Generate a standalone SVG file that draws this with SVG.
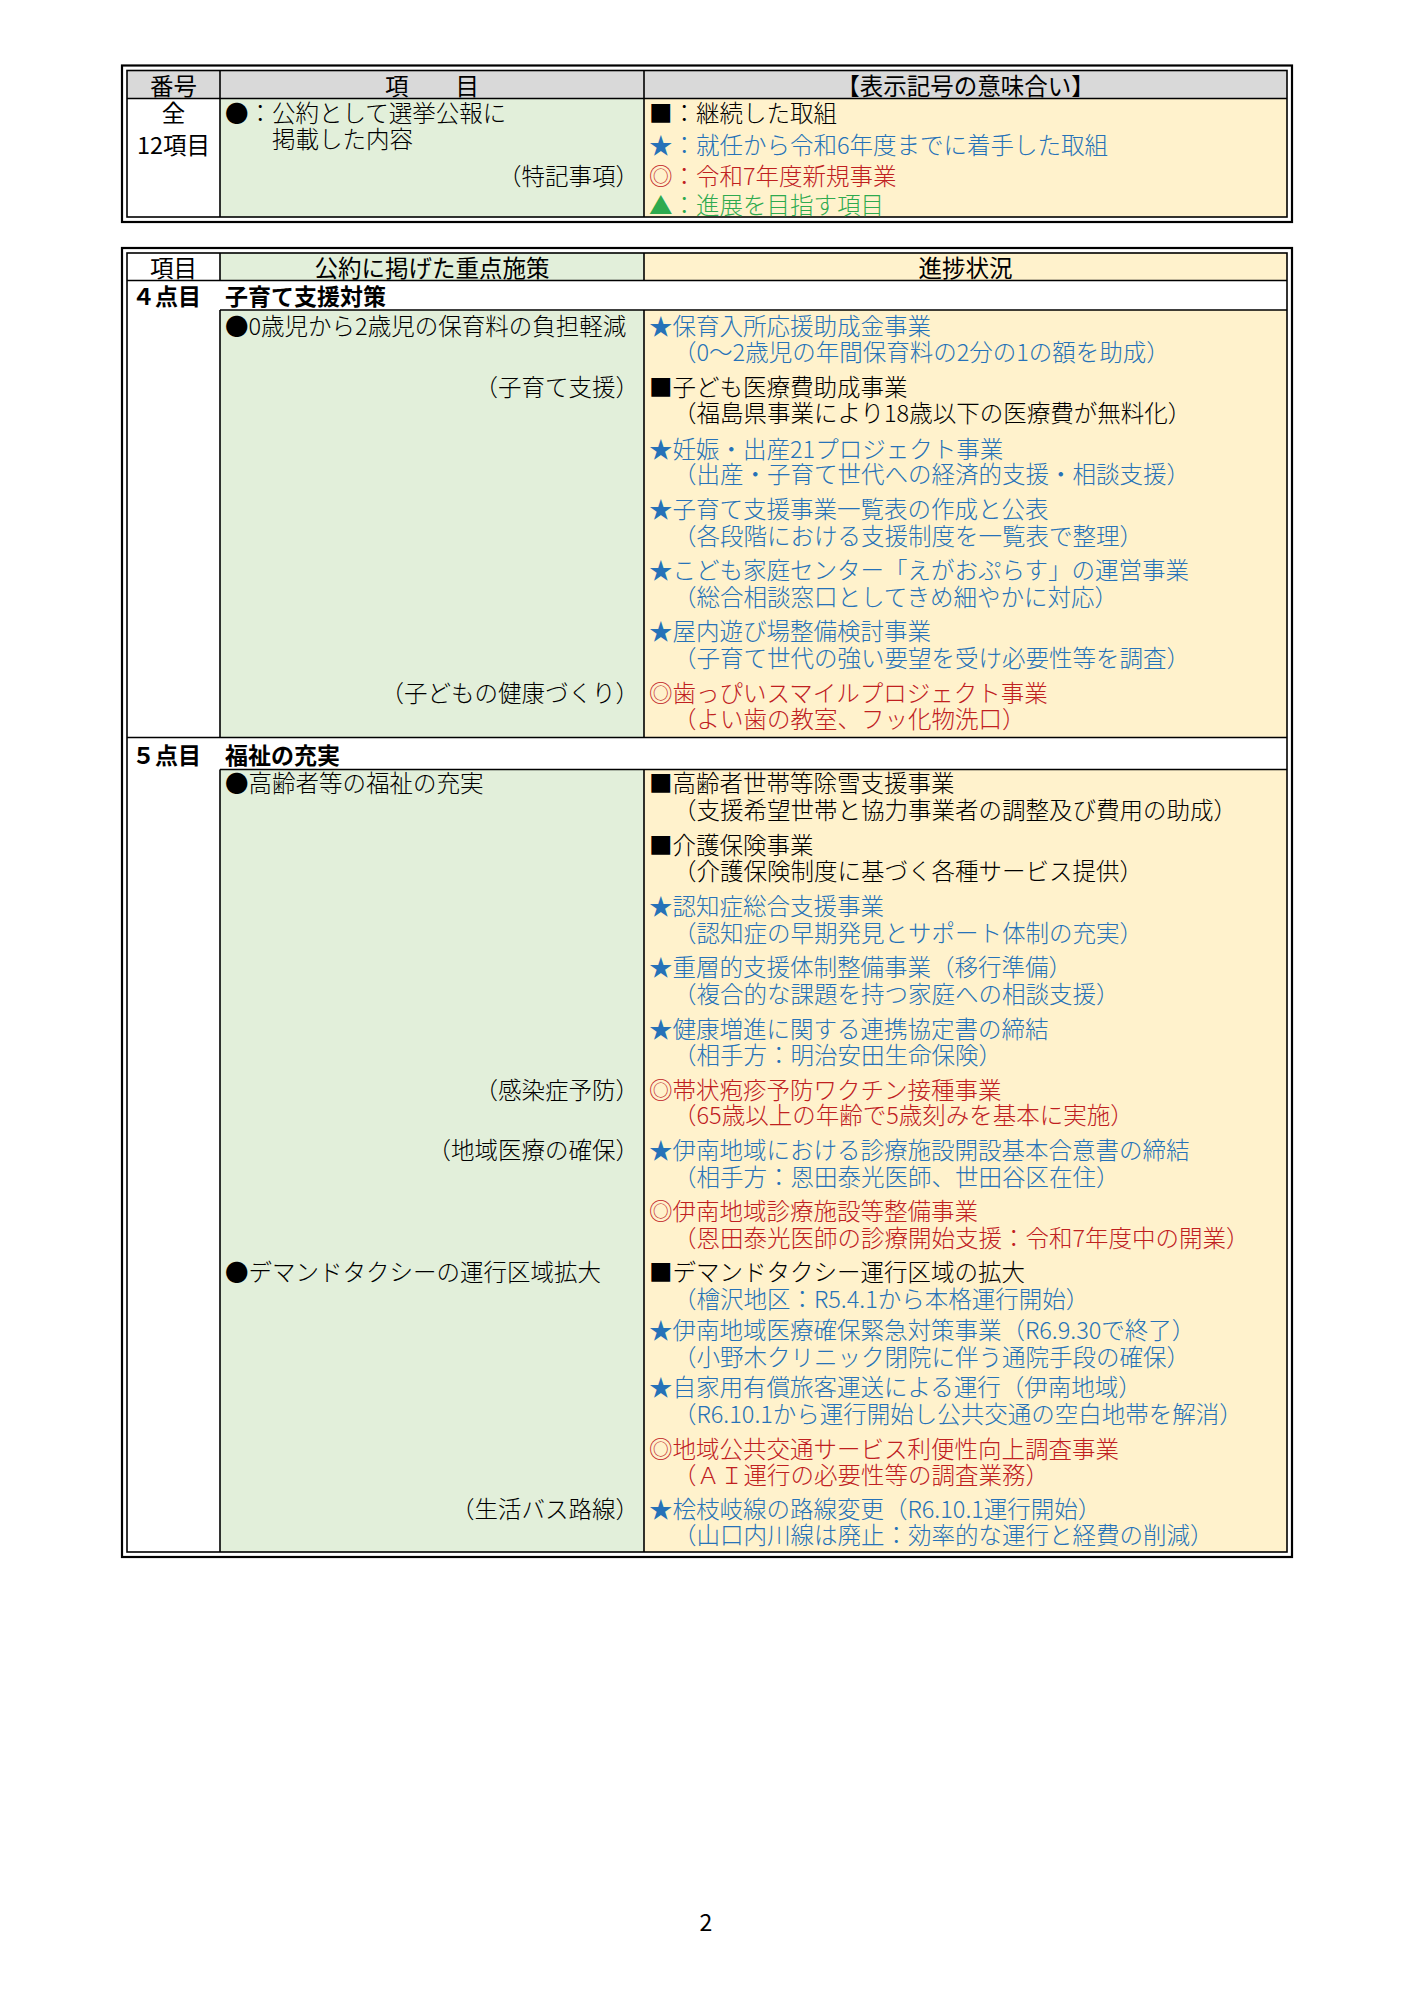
<svg xmlns="http://www.w3.org/2000/svg" width="1415" height="2000" viewBox="0 0 1415 2000">
<style>
text{font-family:"Noto Sans CJK JP","Noto Sans CJK SC",sans-serif;dominant-baseline:central;}
.h{font-size:23.5px;font-weight:400;fill:#000;}
.hc{text-anchor:middle;}
.cat{font-size:23px;font-weight:700;fill:#000;}
.t{font-size:23.5px;font-weight:300;}
.k{fill:#000;}
.bl{fill:#2672B8;}
.rd{fill:#C0201F;}
.gr{fill:#2EAA4F;}
.end{text-anchor:end;}
.frame{fill:none;stroke:#000;stroke-width:2.2;}
.grid{fill:none;stroke:#000;stroke-width:1.6;}
.hdr{fill:#D9D9D9;}
.grn{fill:#E2EFDA;}
.bei{fill:#FFF2CC;}
.wht{fill:#FFFFFF;}
</style>
<rect x="0" y="0" width="1415" height="2000" fill="#FFFFFF"/>

<g id="legend-table">
  <rect class="hdr" x="127" y="70.5" width="1160" height="28"/>
  <rect class="wht" x="127" y="98.5" width="93" height="118.5"/>
  <rect class="grn" x="220" y="98.5" width="424" height="118.5"/>
  <rect class="bei" x="644" y="98.5" width="643" height="118.5"/>
  <rect class="frame" x="122" y="65.5" width="1170" height="156.5"/>
  <rect class="grid" x="127" y="70.5" width="1160" height="146.5"/>
  <line class="grid" x1="127" y1="98.5" x2="1287" y2="98.5"/>
  <line class="grid" x1="220" y1="70.5" x2="220" y2="217"/>
  <line class="grid" x1="644" y1="70.5" x2="644" y2="217"/>
  <text class="h hc" x="173.5" y="84.5">番号</text>
  <text class="h hc" x="432" y="84.5">項　　目</text>
  <text class="h hc" x="965.5" y="84.5">【表示記号の意味合い】</text>
  <text class="h hc" x="173.5" y="112">全</text>
  <text class="h hc" x="173.5" y="144">12項目</text>
  <text class="t k" x="225" y="112">●：公約として選挙公報に</text>
  <text class="t k" x="272" y="137.5">掲載した内容</text>
  <text class="t k end" x="639" y="174.5">（特記事項）</text>
  <text class="t k" x="649" y="112">■：継続した取組</text>
  <text class="t bl" x="649" y="143.5">★：就任から令和6年度までに着手した取組</text>
  <text class="t rd" x="649" y="174.5">◎：令和7年度新規事業</text>
  <text class="t gr" x="649" y="203.5">▲：進展を目指す項目</text>
</g>

<g id="main-table-frame">
  <rect class="wht" x="127" y="253" width="93" height="27.5"/>
  <rect class="grn" x="220" y="253" width="424" height="27.5"/>
  <rect class="bei" x="644" y="253" width="643" height="27.5"/>
  <rect class="wht" x="127" y="280.5" width="1160" height="1271.5"/>
  <rect class="grn" x="220" y="310" width="424" height="427.5"/>
  <rect class="bei" x="644" y="310" width="643" height="427.5"/>
  <rect class="grn" x="220" y="769.5" width="424" height="782.5"/>
  <rect class="bei" x="644" y="769.5" width="643" height="782.5"/>
  <rect class="frame" x="122" y="248" width="1170" height="1309"/>
  <rect class="grid" x="127" y="253" width="1160" height="1299"/>
  <line class="grid" x1="127" y1="280.5" x2="1287" y2="280.5" stroke-width="2.2"/>
  <line class="grid" x1="220" y1="253" x2="220" y2="280.5"/>
  <line class="grid" x1="644" y1="253" x2="644" y2="280.5"/>
  <line class="grid" x1="220" y1="310" x2="1287" y2="310"/>
  <line class="grid" x1="220" y1="310" x2="220" y2="737.5"/>
  <line class="grid" x1="644" y1="310" x2="644" y2="737.5"/>
  <line class="grid" x1="127" y1="737.5" x2="1287" y2="737.5"/>
  <line class="grid" x1="220" y1="769.5" x2="1287" y2="769.5"/>
  <line class="grid" x1="220" y1="769.5" x2="220" y2="1552"/>
  <line class="grid" x1="644" y1="769.5" x2="644" y2="1552"/>
  <text class="h hc" x="173.5" y="266.5">項目</text>
  <text class="h hc" x="432" y="266.5">公約に掲げた重点施策</text>
  <text class="h hc" x="965.5" y="266.5">進捗状況</text>
</g>

<g id="section-4">
  <text class="cat" x="132" y="295">４点目</text>
  <text class="cat" x="225" y="295">子育て支援対策</text>
  <text class="t k" x="225" y="325">●0歳児から2歳児の保育料の負担軽減</text>
  <text class="t k end" x="639" y="386">（子育て支援）</text>
  <text class="t k end" x="639" y="691.5">（子どもの健康づくり）</text>
  <text class="t bl" x="649" y="325">★保育入所応援助成金事業</text>
  <text class="t bl" x="673" y="350.5">（0～2歳児の年間保育料の2分の1の額を助成）</text>
  <text class="t k" x="649" y="386">■子ども医療費助成事業</text>
  <text class="t k" x="673" y="412">（福島県事業により18歳以下の医療費が無料化）</text>
  <text class="t bl" x="649" y="447.5">★妊娠・出産21プロジェクト事業</text>
  <text class="t bl" x="673" y="473">（出産・子育て世代への経済的支援・相談支援）</text>
  <text class="t bl" x="649" y="507.5">★子育て支援事業一覧表の作成と公表</text>
  <text class="t bl" x="673" y="534.5">（各段階における支援制度を一覧表で整理）</text>
  <text class="t bl" x="649" y="569">★こども家庭センター「えがおぷらす」の運営事業</text>
  <text class="t bl" x="673" y="595.5">（総合相談窓口としてきめ細やかに対応）</text>
  <text class="t bl" x="649" y="630">★屋内遊び場整備検討事業</text>
  <text class="t bl" x="673" y="657">（子育て世代の強い要望を受け必要性等を調査）</text>
  <text class="t rd" x="649" y="691.5">◎歯っぴいスマイルプロジェクト事業</text>
  <text class="t rd" x="673" y="718">（よい歯の教室、フッ化物洗口）</text>
</g>

<g id="section-5">
  <text class="cat" x="132" y="753.5">５点目</text>
  <text class="cat" x="225" y="753.5">福祉の充実</text>
  <text class="t k" x="225" y="782">●高齢者等の福祉の充実</text>
  <text class="t k end" x="639" y="1088.5">（感染症予防）</text>
  <text class="t k end" x="639" y="1148.5">（地域医療の確保）</text>
  <text class="t k" x="225" y="1271">●デマンドタクシーの運行区域拡大</text>
  <text class="t k end" x="639" y="1507.5">（生活バス路線）</text>
  <text class="t k" x="649" y="782">■高齢者世帯等除雪支援事業</text>
  <text class="t k" x="673" y="809">（支援希望世帯と協力事業者の調整及び費用の助成）</text>
  <text class="t k" x="649" y="843.5">■介護保険事業</text>
  <text class="t k" x="673" y="870">（介護保険制度に基づく各種サービス提供）</text>
  <text class="t bl" x="649" y="904.5">★認知症総合支援事業</text>
  <text class="t bl" x="673" y="931.5">（認知症の早期発見とサポート体制の充実）</text>
  <text class="t bl" x="649" y="966">★重層的支援体制整備事業（移行準備）</text>
  <text class="t bl" x="673" y="993">（複合的な課題を持つ家庭への相談支援）</text>
  <text class="t bl" x="649" y="1027.5">★健康増進に関する連携協定書の締結</text>
  <text class="t bl" x="673" y="1054">（相手方：明治安田生命保険）</text>
  <text class="t rd" x="649" y="1088.5">◎帯状疱疹予防ワクチン接種事業</text>
  <text class="t rd" x="673" y="1114">（65歳以上の年齢で5歳刻みを基本に実施）</text>
  <text class="t bl" x="649" y="1148.5">★伊南地域における診療施設開設基本合意書の締結</text>
  <text class="t bl" x="673" y="1175.5">（相手方：恩田泰光医師、世田谷区在住）</text>
  <text class="t rd" x="649" y="1210">◎伊南地域診療施設等整備事業</text>
  <text class="t rd" x="673" y="1236.5">（恩田泰光医師の診療開始支援：令和7年度中の開業）</text>
  <text class="t k" x="649" y="1271">■デマンドタクシー運行区域の拡大</text>
  <text class="t bl" x="673" y="1298">（檜沢地区：R5.4.1から本格運行開始）</text>
  <text class="t bl" x="649" y="1328.5">★伊南地域医療確保緊急対策事業（R6.9.30で終了）</text>
  <text class="t bl" x="673" y="1355.5">（小野木クリニック閉院に伴う通院手段の確保）</text>
  <text class="t bl" x="649" y="1386">★自家用有償旅客運送による運行（伊南地域）</text>
  <text class="t bl" x="673" y="1413">（R6.10.1から運行開始し公共交通の空白地帯を解消）</text>
  <text class="t rd" x="649" y="1447.5">◎地域公共交通サービス利便性向上調査事業</text>
  <text class="t rd" x="673" y="1474">（ＡＩ運行の必要性等の調査業務）</text>
  <text class="t bl" x="649" y="1507.5">★桧枝岐線の路線変更（R6.10.1運行開始）</text>
  <text class="t bl" x="673" y="1534">（山口内川線は廃止：効率的な運行と経費の削減）</text>
</g>

<g id="page-number">
  <text x="706" y="1921" font-size="23" text-anchor="middle" fill="#000">2</text>
</g>
</svg>
